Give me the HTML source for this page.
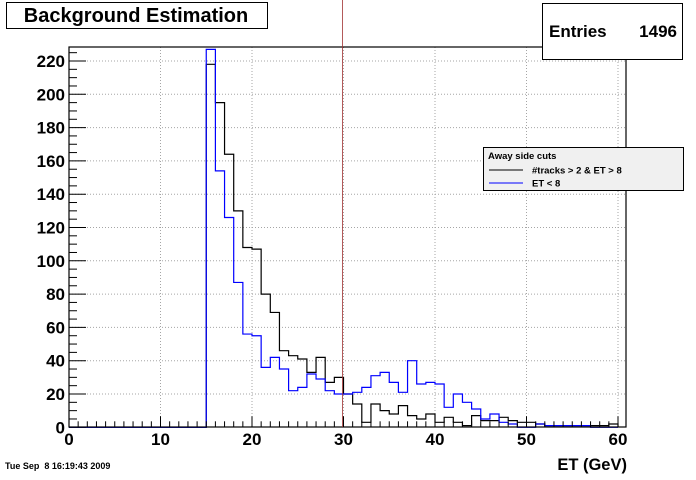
<!DOCTYPE html>
<html><head><meta charset="utf-8"><style>
body{margin:0;background:#fff;}
svg text{font-family:"Liberation Sans",Arial,sans-serif;font-weight:bold;}
</style></head><body>
<svg id="c" width="696" height="475" xmlns="http://www.w3.org/2000/svg">
<rect x="0" y="0" width="696" height="475" fill="#fff"/>
<g id="grid" opacity="0.35"></g>
<g id="hists"></g>
<rect x="69" y="47" width="557" height="380" fill="none" stroke="#000" stroke-width="1.2"/>
<g id="axes"></g>
<line x1="342.5" y1="0" x2="342.5" y2="427" stroke="#a03030" stroke-width="0.8"/>
<g>
<rect x="6.5" y="2.5" width="261" height="26" fill="#fff" stroke="#000"/>
<text x="136" y="22" font-size="20" text-anchor="middle">Background Estimation</text>
</g>
<g>
<rect x="542.5" y="3.5" width="140" height="56" fill="#fff" stroke="#000"/>
<text x="549" y="37" font-size="17">Entries</text>
<text x="677" y="37" font-size="17" text-anchor="end">1496</text>
</g>
<g>
<rect x="483.5" y="147.5" width="200" height="43" fill="#f0f0f0" stroke="#000"/>
<text x="488" y="159" font-size="9.5">Away side cuts</text>
<line x1="489" y1="170" x2="523" y2="170" stroke="#000"/>
<text x="532" y="173.5" font-size="9.5">#tracks &gt; 2 &amp; ET &gt; 8</text>
<line x1="489" y1="183" x2="523" y2="183" stroke="#00f"/>
<text x="532" y="186.5" font-size="9.5">ET &lt; 8</text>
</g>
<text x="627" y="470" font-size="16.5" text-anchor="end">ET (GeV)</text>
<text x="5" y="469" font-size="9" style="white-space:pre" xml:space="preserve">Tue Sep  8 16:19:43 2009</text>
</svg>
<script>
const binEdgesStart = 0;
const binWidth = 1;
const blackCounts = [0,0,0,0,0,0,0,0,0,0,0,0,0,0,0,218,195,164,130,108,107,80,69,46,43,41,33,42,27,30,20,14,3,14,10,8,13,7,5,8,3,6,3,1,7,4,4,6,4,3,3,2,1,1,1,1,1,1,1,2];
const blueCounts = [0,0,0,0,0,0,0,0,0,0,0,0,0,0,0,227,154,126,87,56,55,36,42,35,22,24,32,29,22,20,20,21,24,31,33,27,21,40,26,27,26,12,20,15,11,5,8,3,2,0,0,2,1,1,1,1,1,0,0,0];
const xTicks = [0,10,20,30,40,50,60];
const yTicks = [0,20,40,60,80,100,120,140,160,180,200,220];
const NS='http://www.w3.org/2000/svg';
const X0=69, PX=9.15, Y0=427.3, PY=1.665, XR=626, YT=47;
function sx(v){return X0+v*PX;}
function sy(v){return Y0-v*PY;}
function mk(tag,attrs,parent){const e=document.createElementNS(NS,tag);for(const k in attrs)e.setAttribute(k,attrs[k]);parent.appendChild(e);return e;}
const grid=document.getElementById('grid'), axes=document.getElementById('axes'), hists=document.getElementById('hists');
xTicks.forEach(t=>{
  const x=sx(t);
  if(t>0){const g=mk('line',{x1:x,y1:YT,x2:x,y2:Y0,stroke:'#000','stroke-width':1,'stroke-dasharray':'1,2'},grid);
  
  }
  const tk=mk('line',{x1:x,y1:Y0,x2:x,y2:Y0-11,stroke:'#000'},axes);
  
  
  const l=mk('text',{x:x,y:445,'font-size':17,'text-anchor':'middle'},axes);
  l.textContent=t;
  
  
});
for(let v=0;v<=61;v++){if(v%10===0)continue;const x=sx(v);if(x>XR)break;
  const m=mk('line',{x1:x,y1:Y0,x2:x,y2:Y0-6,stroke:'#000'},axes);
  
  }
yTicks.forEach(t=>{
  const y=sy(t);
  if(t>0){const g=mk('line',{x1:X0,y1:y,x2:XR,y2:y,stroke:'#000','stroke-width':1,'stroke-dasharray':'1,2'},grid);
  
  }
  const tk=mk('line',{x1:X0,y1:y,x2:X0+17,y2:y,stroke:'#000'},axes);
  
  
  const l=mk('text',{x:65,y:y+6,'font-size':17,'text-anchor':'end'},axes);
  l.textContent=t;
  
  
});
for(let v=5;v<=228;v+=5){if(v%20===0)continue;const y=sy(v);if(y<YT)break;
  const m=mk('line',{x1:X0,y1:y,x2:X0+8,y2:y,stroke:'#000'},axes);
  
  }
function histPath(counts){
  let d='M'+sx(binEdgesStart)+','+sy(0);
  counts.forEach((c,i)=>{const a=sx(binEdgesStart+i*binWidth),b=sx(binEdgesStart+(i+1)*binWidth);d+=' L'+a+','+sy(c)+' L'+b+','+sy(c);});
  d+=' L'+sx(binEdgesStart+counts.length*binWidth)+','+sy(0);
  return d;
}
const pb=mk('path',{d:histPath(blackCounts),fill:'none',stroke:'#000','stroke-width':1.2},hists);


const pu=mk('path',{d:histPath(blueCounts),fill:'none',stroke:'#00f','stroke-width':1.2},hists);


</script>
</body></html>
